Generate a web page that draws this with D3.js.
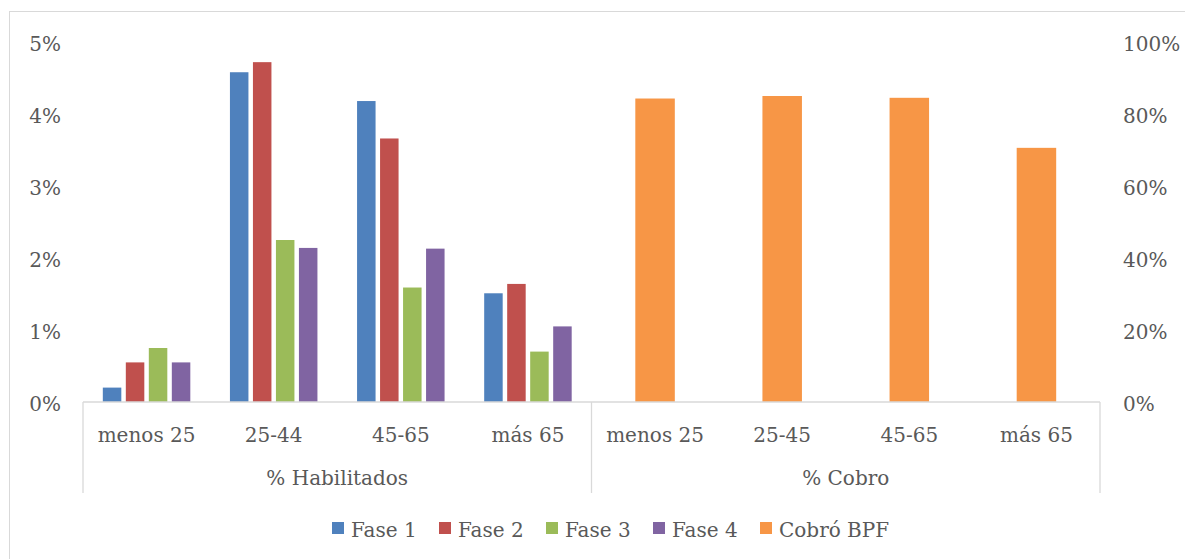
<!DOCTYPE html>
<html>
<head>
<meta charset="utf-8">
<script src="https://cdn.jsdelivr.net/npm/d3@7"></script>
<style>
  html, body { margin: 0; padding: 0; background: #fff; }
  svg { display: block; }
  text { font-family: "DejaVu Serif", Cambria, serif; fill: #595959; }
</style>
</head>
<body>
<svg id="chart" width="1185" height="559"></svg>
<script>
// Age brackets and groupings
const groups = ["% Habilitados", "% Cobro"];
const habilitadosAges = ["menos 25", "25-44", "45-65", "más 65"];
const cobroAges = ["menos 25", "25-45", "45-65", "más 65"];
const phases = ["Fase 1", "Fase 2", "Fase 3", "Fase 4"];

// Share enabled per phase (primary axis), one array per phase, by age bracket
const fase1 = [0.0020, 0.0458, 0.0418, 0.0151];
const fase2 = [0.0055, 0.0472, 0.0366, 0.0164];
const fase3 = [0.0075, 0.0225, 0.0159, 0.0070];
const fase4 = [0.0055, 0.0214, 0.0213, 0.0105];

// Share that collected the benefit (secondary axis)
const cobroBPF = [0.843, 0.850, 0.845, 0.706];

// Axis ticks
const leftTicks = [0, 0.01, 0.02, 0.03, 0.04, 0.05];
const rightTicks = [0, 0.2, 0.4, 0.6, 0.8, 1.0];

const colors = {
  "Fase 1": "#4F81BD",
  "Fase 2": "#C0504D",
  "Fase 3": "#9BBB59",
  "Fase 4": "#8064A2",
  "Cobró BPF": "#F79646"
};

const svg = d3.select("#chart");
const W = 1185, H = 559;
const plot = { left: 83, right: 1100, top: 42, bottom: 402 };
const gridColor = "#D9D9D9";

// Outer chart border
svg.append("rect")
  .attr("x", 9.5).attr("y", 11.5)
  .attr("width", W + 20).attr("height", H + 20)
  .attr("fill", "none").attr("stroke", gridColor).attr("stroke-width", 1);

// Category keys (group|age) across the whole x-axis
const cats = [
  ...habilitadosAges.map(a => groups[0] + "|" + a),
  ...cobroAges.map(a => groups[1] + "|" + a)
];

const x = d3.scaleBand().domain(cats).range([plot.left, plot.right]).padding(0);
const yL = d3.scaleLinear().domain([0, 0.05]).range([plot.bottom, plot.top]);
const yR = d3.scaleLinear().domain([0, 1]).range([plot.bottom, plot.top]);

// Inner band for the four phases
const barW = 18.5, barGap = 4.5;
const xPhase = d3.scaleBand().domain(phases)
  .range([0, phases.length * barW + (phases.length - 1) * barGap])
  .paddingInner(barGap / (barW + barGap));
const phaseGroupW = xPhase.range()[1];

const phaseSeries = [fase1, fase2, fase3, fase4];
const hab = svg.append("g");
habilitadosAges.forEach((age, i) => {
  const key = groups[0] + "|" + age;
  const x0 = x(key) + (x.bandwidth() - phaseGroupW) / 2;
  phases.forEach((p, j) => {
    const v = phaseSeries[j][i];
    hab.append("rect")
      .attr("x", x0 + xPhase(p))
      .attr("y", yL(v))
      .attr("width", xPhase.bandwidth())
      .attr("height", yL(0) - yL(v))
      .attr("fill", colors[p]);
  });
});

// Secondary-axis bars
const orangeW = 39.5;
svg.append("g").selectAll("rect")
  .data(cobroAges.map((a, i) => ({ key: groups[1] + "|" + a, v: cobroBPF[i] })))
  .join("rect")
  .attr("x", d => x(d.key) + (x.bandwidth() - orangeW) / 2)
  .attr("y", d => yR(d.v))
  .attr("width", orangeW)
  .attr("height", d => yR(0) - yR(d.v))
  .attr("fill", colors["Cobró BPF"]);

// Left axis labels
const fmtL = d3.format(".0%");
const leftAxis = d3.axisLeft(yL).tickValues(leftTicks).tickFormat(fmtL).tickSize(0).tickPadding(22);
const gL = svg.append("g").attr("transform", `translate(${plot.left},0)`).call(leftAxis);
gL.select(".domain").remove();
gL.selectAll("text").attr("font-size", 20).attr("font-family", "DejaVu Serif")
  .attr("fill", "#595959").attr("dy", "0.4em");

// Right axis labels
const rightAxis = d3.axisRight(yR).tickValues(rightTicks).tickFormat(fmtL).tickSize(0).tickPadding(23);
const gR = svg.append("g").attr("transform", `translate(${plot.right},0)`).call(rightAxis);
gR.select(".domain").remove();
gR.selectAll("text").attr("font-size", 20).attr("font-family", "DejaVu Serif")
  .attr("fill", "#595959").attr("dy", "0.4em");

// Category axis: baseline line and group dividers
const axisG = svg.append("g").attr("stroke", gridColor).attr("stroke-width", 1.3).attr("fill", "none");
axisG.append("line")
  .attr("x1", plot.left).attr("x2", plot.right)
  .attr("y1", plot.bottom).attr("y2", plot.bottom);
const boxBottom = 493;
const dividers = [x(cats[0]), x(cats[4]), x(cats[7]) + x.bandwidth()];
dividers.forEach(d => {
  axisG.append("line")
    .attr("x1", d).attr("x2", d)
    .attr("y1", plot.bottom).attr("y2", boxBottom);
});

// Age labels
svg.append("g").selectAll("text")
  .data(cats)
  .join("text")
  .attr("x", d => x(d) + x.bandwidth() / 2)
  .attr("y", 442)
  .attr("text-anchor", "middle")
  .attr("font-size", 20)
  .text(d => d.split("|")[1]);

// Group labels
[[cats[0], cats[3]], [cats[4], cats[7]]].forEach((pair, i) => {
  const cx = (x(pair[0]) + x(pair[1]) + x.bandwidth()) / 2;
  svg.append("text")
    .attr("x", cx).attr("y", 485)
    .attr("text-anchor", "middle")
    .attr("font-size", 20)
    .text(groups[i]);
});

// Legend
const legendItems = [...phases, "Cobró BPF"];
const legendX0 = 332, legendStep = 107;
const lg = svg.append("g");
legendItems.forEach((name, i) => {
  const lx = legendX0 + i * legendStep;
  lg.append("rect")
    .attr("x", lx).attr("y", 522)
    .attr("width", 12).attr("height", 12)
    .attr("fill", colors[name]);
  lg.append("text")
    .attr("x", lx + 19).attr("y", 537)
    .attr("font-size", 20)
    .text(name);
});
</script>
</body>
</html>
